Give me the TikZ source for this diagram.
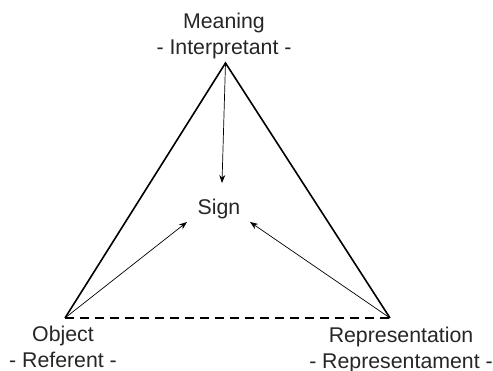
\documentclass[tikz,border=0pt]{standalone}
\usepackage{fontspec}
\setmainfont{Liberation Sans}
\usetikzlibrary{arrows.meta}
\begin{document}
\begin{tikzpicture}[x=1pt,y=-1pt,
  label text/.style={font=\fontsize{21.3}{26}\selectfont, align=center, inner sep=0pt, anchor=base, text=black!85},
  edge thick/.style={line width=1.6pt, line join=miter},
  edge dashed/.style={line width=1.2pt, dash pattern=on 9pt off 6pt},
  pointer/.style={line width=0.7pt, -{Stealth[length=8pt,width=6pt]}}]
  \useasboundingbox (0,0) rectangle (493,371);
  % corners of the triangle
  \coordinate (apex) at (225.5,63);
  \coordinate (obj) at (65,318);
  \coordinate (rep) at (390,318);
  % labels (anchored at the baseline of their last line)
  \node[label text] (meaning) at (224,55) {Meaning\\- Interpretant -};
  \node[label text] (object) at (63,368) {Object\\- Referent -};
  \node[label text] (representation) at (401,368.5) {Representation\\- Representament -};
  \node[label text] (sign) at (219,215) {Sign};
  % arrow ends around the sign
  \coordinate (signTop) at (222,183);
  \coordinate (signLeft) at (187,222);
  \coordinate (signRight) at (250,222);
  % triangle
  \draw[edge thick] (obj) -- (apex) -- (rep);
  \draw[edge dashed] (obj) -- (rep);
  % arrows
  \draw[pointer] (apex) -- (signTop);
  \draw[pointer] (obj) -- (signLeft);
  \draw[pointer] (rep) -- (signRight);
\end{tikzpicture}
\end{document}
